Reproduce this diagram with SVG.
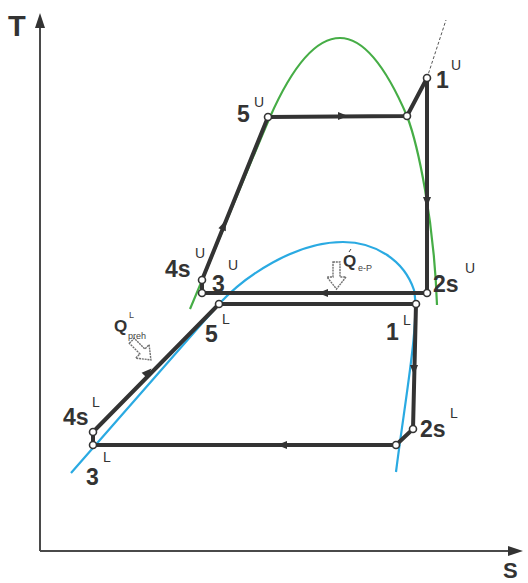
<svg xmlns="http://www.w3.org/2000/svg" xmlns:xlink="http://www.w3.org/1999/xlink" width="528" height="583" viewBox="0 0 528 583">
<style>
.ax{stroke:#4a4a4a;stroke-width:2;fill:none}
.cy{stroke:#333;stroke-width:4;fill:none;stroke-linejoin:round;stroke-linecap:round}
.nd{fill:#fff;stroke:#333;stroke-width:1.6}
.lb{font-family:"Liberation Sans",Arial,sans-serif;font-weight:bold;font-size:23px;fill:#333}
.sp{font-family:"Liberation Sans",Arial,sans-serif;font-size:14px;fill:#333}
.q{font-family:"Liberation Sans",Arial,sans-serif;font-weight:bold;font-size:17px;fill:#333}
.qs{font-family:"Liberation Sans",Arial,sans-serif;font-size:9px;fill:#444}
.ha{fill:#fff;stroke:#707070;stroke-width:1.4;stroke-dasharray:2 0.8}
</style>
<defs>
<path id="ah" d="M5,0 L-5,-4 L-5,4 Z" fill="#333"/>
<path id="hollow" d="M-3.5,-13 L3.5,-13 L3.5,2 L9.5,2 L0,14 L-9.5,2 L-3.5,2 Z"/>
</defs>
<rect width="528" height="583" fill="#fff"/>
<g id="axes">
<line class="ax" x1="40" y1="551" x2="40" y2="24"/>
<path d="M40,13 L45,28 L35,28 Z" fill="#333"/>
<line class="ax" x1="40" y1="551" x2="511" y2="551"/>
<path d="M523,551 L508,556 L508,546 Z" fill="#333"/>
<text class="lb" x="8" y="36" style="font-size:29px">T</text>
<text class="lb" x="503" y="578" style="font-size:22px">S</text>
</g>
<g id="domes">
<path d="M190,309 C210,262 245,175 270,117 Q305,38 340,38 Q373.5,38 407,116 C418,145 434,220 437,305" fill="none" stroke="#46ad46" stroke-width="2.2"/>
<path d="M71,473 L219,304 C245,276 295,242 343,242 C375,242 404,260 414,290 C420,320 405,400 396,472" fill="none" stroke="#2aaae2" stroke-width="2.2"/>
</g>
<g id="connectors">
<line x1="427" y1="78" x2="446" y2="20" stroke="#555" stroke-width="1" stroke-dasharray="3 2"/>
<path class="cy" d="M268,117 L407,116 L427,78 L427,293 L202,293 L202,280 L268,117"/>
<path class="cy" d="M219,304 L416,304 L413,429 L396,445 L93,445 L93,432 L219,304"/>
<use href="#ah" transform="translate(343,116)"/>
<use href="#ah" transform="translate(427,202) rotate(90)"/>
<use href="#ah" transform="translate(323,293) rotate(180)"/>
<use href="#ah" transform="translate(224,225) rotate(-68)"/>
<use href="#ah" transform="translate(148,372) rotate(-45.4)"/>
<use href="#ah" transform="translate(414,370) rotate(90)"/>
<use href="#ah" transform="translate(282,445) rotate(180)"/>
</g>
<g id="heat-eP">
<use href="#hollow" class="ha" transform="translate(336.5,275)"/>
<text class="q" x="343" y="267">Q</text>
<line x1="349" y1="252" x2="351" y2="249" stroke="#444" stroke-width="1"/>
<text class="qs" x="358" y="271">e-P</text>
</g>
<g id="heat-preh">
<use href="#hollow" class="ha" transform="translate(141,350) rotate(-45)"/>
<text class="q" x="114" y="332">Q</text>
<text class="qs" x="129" y="318">L</text>
<text class="qs" x="128" y="339">preh</text>
</g>
<g id="n1U"><circle class="nd" cx="427" cy="78" r="3.5"/><text class="lb" x="436" y="88">1</text><text class="sp" x="451" y="70">U</text></g>
<g id="nU-sat"><circle class="nd" cx="407" cy="116" r="3.5"/></g>
<g id="n5U"><circle class="nd" cx="268" cy="117" r="3.5"/><text class="lb" x="237" y="122">5</text><text class="sp" x="254" y="107">U</text></g>
<g id="n4sU"><circle class="nd" cx="202" cy="280" r="3.5"/><text class="lb" x="165" y="277">4s</text><text class="sp" x="195" y="258">U</text></g>
<g id="n3U"><circle class="nd" cx="202" cy="293" r="3.5"/><text class="lb" x="212" y="292">3</text><text class="sp" x="228" y="270">U</text></g>
<g id="n2sU"><circle class="nd" cx="427" cy="293" r="3.5"/><text class="lb" x="433" y="292">2s</text><text class="sp" x="465" y="273">U</text></g>
<g id="n5L"><circle class="nd" cx="219" cy="304" r="3.5"/><text class="lb" x="205" y="342">5</text><text class="sp" x="222" y="324">L</text></g>
<g id="n1L"><circle class="nd" cx="416" cy="304" r="3.5"/><text class="lb" x="386" y="340">1</text><text class="sp" x="403" y="325">L</text></g>
<g id="n2sL"><circle class="nd" cx="413" cy="429" r="3.5"/><text class="lb" x="420" y="437">2s</text><text class="sp" x="450" y="418">L</text></g>
<g id="nL-sat"><circle class="nd" cx="396" cy="445" r="3.5"/></g>
<g id="n3L"><circle class="nd" cx="93" cy="445" r="3.5"/><text class="lb" x="86" y="485">3</text><text class="sp" x="103" y="462">L</text></g>
<g id="n4sL"><circle class="nd" cx="93" cy="432" r="3.5"/><text class="lb" x="63" y="425">4s</text><text class="sp" x="92" y="407">L</text></g>
</svg>
